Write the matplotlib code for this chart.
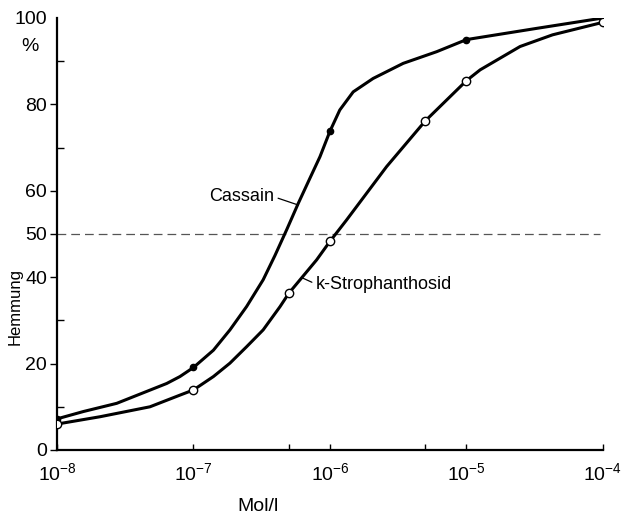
import matplotlib.pyplot as plt
from matplotlib.ticker import FixedLocator, NullFormatter

plt.rcParams['font.family'] = ['Liberation Sans', 'DejaVu Sans']

# Kurvenverlauf
cassain_x = [1e-8, 1.56e-8, 2.74e-8, 6.37e-8, 7.96e-8, 1e-7, 1.40e-7, 1.85e-7,
             2.45e-7, 3.24e-7, 3.95e-7, 4.82e-7, 5.86e-7, 7.08e-7, 8.45e-7,
             1e-6, 1.18e-6, 1.48e-6, 2.07e-6, 3.44e-6, 6.05e-6, 1e-5,
             3.27e-5, 1e-4]
cassain_y = [7.2, 8.9, 10.8, 15.4, 17.0, 19.1, 23.1, 27.8,
             33.2, 39.4, 45.0, 51.0, 57.1, 62.7, 67.9,
             73.8, 78.7, 82.9, 86.0, 89.5, 92.2, 95.0,
             97.6, 100.0]

stroph_x = [1e-8, 2.07e-8, 4.8e-8, 7.96e-8, 1e-7, 1.40e-7, 1.85e-7, 2.45e-7,
            3.24e-7, 4.31e-7, 5e-7, 7.98e-7, 1e-6, 1.32e-6, 2.6e-6, 5e-6,
            1e-5, 1.26e-5, 2.47e-5, 4.27e-5, 1e-4]
stroph_y = [6.0, 7.7, 10.0, 12.7, 13.9, 17.0, 20.1, 23.9,
            27.8, 33.2, 36.3, 44.0, 48.3, 53.2, 65.6, 76.2,
            85.5, 88.0, 93.4, 96.1, 99.0]

# Messpunkte
cassain_px = [1e-8, 1e-7, 1e-6, 1e-5, 1e-4]
cassain_py = [7.2, 19.1, 73.8, 95.0, 100.0]
stroph_px = [1e-8, 1e-7, 5e-7, 1e-6, 5e-6, 1e-5, 1e-4]
stroph_py = [6.0, 13.9, 36.3, 48.3, 76.2, 85.5, 99.0]

x_ticks = [1e-8, 1e-7, 1e-6, 1e-5, 1e-4]
x_labels = ['$\\mathregular{10^{-8}}$', '$\\mathregular{10^{-7}}$',
            '$\\mathregular{10^{-6}}$', '$\\mathregular{10^{-5}}$',
            '$\\mathregular{10^{-4}}$']
y_ticks = [0, 20, 40, 50, 60, 80, 100]
y_minor = [10, 30, 70, 90, 100]

fig = plt.figure(figsize=(6.24, 5.23), dpi=100)
ax = fig.add_axes([0.0913, 0.1396, 0.875, 0.826])

ax.axhline(50, xmin=0, xmax=0.995, color='#555555', lw=0.9, ls=(0, (7, 4)))

ax.plot(cassain_x, cassain_y, color='black', lw=2.2, solid_joinstyle='round')
ax.plot(stroph_x, stroph_y, color='black', lw=2.2, solid_joinstyle='round')
ax.plot(cassain_px, cassain_py, 'o', color='black', ms=4.5, zorder=3)
ax.plot(stroph_px, stroph_py, 'o', mfc='white', mec='black', mew=1.0, ms=6, zorder=3)

ax.set_xscale('log')
ax.set_xlim(1e-8, 1e-4)
ax.set_ylim(0, 100)

for s in ['top', 'right']:
    ax.spines[s].set_visible(False)
ax.spines['left'].set_linewidth(1.6)
ax.spines['bottom'].set_linewidth(1.6)

ax.xaxis.set_major_locator(FixedLocator(x_ticks))
ax.set_xticklabels(x_labels, fontsize=14)
ax.xaxis.set_minor_locator(FixedLocator([5e-7, 5e-6]))
ax.xaxis.set_minor_formatter(NullFormatter())
ax.tick_params(axis='x', which='both', direction='in', length=4, width=1, pad=9)

ax.set_yticks(y_ticks)
ax.set_yticklabels([str(v) for v in y_ticks], fontsize=14)
ax.yaxis.set_minor_locator(FixedLocator(y_minor))
ax.yaxis.set_minor_formatter(NullFormatter())
ax.tick_params(axis='y', which='major', direction='out', length=5, width=1, pad=2)
ax.tick_params(axis='y', which='minor', direction='in', length=5, width=1)
ax.yaxis.get_major_ticks()[-1].tick1line.set_visible(False)

ax.set_ylabel('Hemmung', fontsize=12)
ax.yaxis.set_label_coords(-0.062, 0.333)
ax.text(-0.049, 0.933, '%', transform=ax.transAxes, fontsize=14,
        ha='center', va='center')
fig.text(0.413, 0.032, 'Mol/l', fontsize=14, ha='center', va='center')

# Beschriftungen mit Hinweislinien
ax.annotate('Cassain', xy=(5.86e-7, 56.7), xytext=(3.89e-7, 58.6),
            fontsize=13, ha='right', va='center',
            arrowprops=dict(arrowstyle='-', lw=0.9, color='black',
                            relpos=(1, 0.5), shrinkA=1, shrinkB=0))
ax.annotate('k-Strophanthosid', xy=(6.31e-7, 39.8), xytext=(7.89e-7, 38.4),
            fontsize=13, ha='left', va='center',
            arrowprops=dict(arrowstyle='-', lw=0.9, color='black',
                            relpos=(0, 0.5), shrinkA=1, shrinkB=0))

fig.savefig('out.png', dpi=100)
